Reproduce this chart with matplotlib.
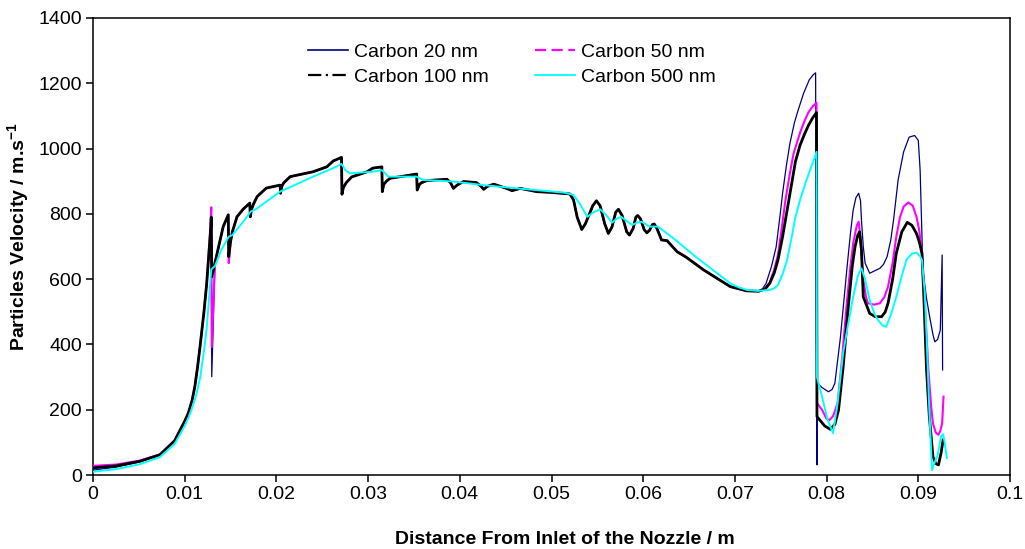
"""Particle velocity along the nozzle for four carbon particle sizes."""

import matplotlib
import matplotlib.pyplot as plt
from matplotlib.lines import Line2D
from matplotlib.ticker import FuncFormatter, MultipleLocator

matplotlib.use("Agg")

# ---- data -----------------------------------------------------------------
# onset, where the 20/50/100 nm curves part at the first shock
X_ONSET = [0.0, 0.0025, 0.0051, 0.0073, 0.0089, 0.0100, 0.0104, 0.0108, 0.0111, 0.0114,
           0.0117, 0.0121, 0.0124, 0.0128, 0.0129, 0.01295, 0.0133, 0.0137, 0.0142, 0.01475,
           0.0148]
Y_ONSET_100 = [22, 28, 42, 62, 105, 165, 190, 228, 270, 330,
               400, 500, 587, 740, 790, 607, 650, 700, 761, 797,
               669]
Y_ONSET_50 = [28, 32, 44, 63, 105, 165, 190, 228, 270, 330,
              400, 500, 587, 760, 820, 392, 650, 700, 761, 797,
              649]
Y_ONSET_20 = [15, 24, 40, 61, 105, 165, 190, 228, 270, 330,
              400, 500, 587, 740, 790, 301, 650, 700, 761, 797,
              669]

# middle stretch, common to 20/50/100 nm
X_MID = [
    0.0150, 0.0152, 0.0157, 0.0164, 0.0171, 0.01715, 0.0173, 0.0175, 0.0179, 0.0189,
    0.0204, 0.02045, 0.0206, 0.0208, 0.0215, 0.0240, 0.0255, 0.0262, 0.0271, 0.02715,
    0.0273, 0.0276, 0.0282, 0.0299, 0.0305, 0.0315, 0.03155, 0.0317, 0.0320, 0.0324,
    0.0353, 0.03535, 0.0356, 0.0358, 0.0364, 0.0386, 0.0390, 0.0393, 0.0397, 0.0404,
    0.0418, 0.0423, 0.0426, 0.0430, 0.0437, 0.0451, 0.0457, 0.0466, 0.0484, 0.0498,
    0.0520, 0.0524, 0.0528, 0.0533, 0.0537, 0.0545, 0.0549, 0.0553, 0.0558, 0.0562,
    0.0566, 0.0570, 0.0573, 0.0577, 0.0582, 0.0585, 0.0589, 0.0592, 0.0594, 0.0597,
    0.0601, 0.0604, 0.0607, 0.0610, 0.0612, 0.0615, 0.0620, 0.0626, 0.0637, 0.0647,
    0.0666, 0.0695, 0.0713, 0.0726,
]
Y_MID = [
    715, 745, 791, 815, 833, 791, 815, 830, 853, 879,
    888, 863, 885, 895, 914, 929, 944, 962, 973, 860,
    880, 895, 913, 929, 940, 944, 868, 890, 900, 909,
    922, 873, 890, 895, 902, 906, 895, 878, 888, 899,
    896, 885, 875, 884, 891, 878, 871, 878, 868, 866,
    861, 843, 790, 752, 770, 825, 840, 825, 770, 740,
    760, 805, 814, 795, 745, 735, 755, 790, 795, 785,
    752, 742, 750, 767, 769, 755, 720, 718, 684, 667,
    628, 577, 564, 563,
]

# tails (x > 0.0726 m), each size separately
X_TAIL_100 = [
    0.0733, 0.0738, 0.0743, 0.0747, 0.0752, 0.0757, 0.0762, 0.0766, 0.0771, 0.0776,
    0.0780, 0.0785, 0.0789, 0.07895, 0.0798, 0.0804, 0.0809, 0.0813, 0.0818, 0.0824,
    0.0828, 0.0831, 0.0834, 0.0836, 0.0838, 0.0840, 0.0847, 0.0853, 0.0860, 0.0864,
    0.0867, 0.0872, 0.0876, 0.0882, 0.0888, 0.0893, 0.0898, 0.0901, 0.0904, 0.0906,
    0.0909, 0.0912, 0.0916, 0.0919, 0.0922, 0.0925, 0.0927,
]
Y_TAIL_100 = [
    570, 587, 620, 659, 730, 812, 895, 960, 1010, 1045,
    1070, 1095, 1110, 179, 150, 140, 155, 199, 330, 526,
    640, 699, 735, 745, 690, 546, 495, 485, 485, 500,
    526, 600, 679, 745, 774, 765, 740, 715, 679, 550,
    322, 180, 56, 35, 31, 70, 107,
]

X_TAIL_50 = [
    0.0733, 0.0738, 0.0743, 0.0747, 0.0751, 0.0755, 0.0760, 0.0764, 0.0771, 0.0776,
    0.0780, 0.0785, 0.0789, 0.07895, 0.0795, 0.0800, 0.0803, 0.0807, 0.0812, 0.0817,
    0.0822, 0.0826, 0.0829, 0.0833, 0.0835, 0.0837, 0.0840, 0.0843, 0.0845, 0.0852,
    0.0858, 0.0863, 0.0867, 0.0872, 0.0876, 0.0880, 0.0884, 0.0889, 0.0894, 0.0898,
    0.0901, 0.0904, 0.0908, 0.0911, 0.0914, 0.0916, 0.0919, 0.0922, 0.0924, 0.0926,
    0.09275,
]
Y_TAIL_50 = [
    572, 590, 630, 675, 755, 840, 925, 985, 1048, 1085,
    1110, 1130, 1140, 220, 200, 172, 168, 180, 220, 360,
    526, 640, 710, 765, 776, 720, 597, 545, 526, 522,
    526, 545, 577, 650, 730, 790, 822, 835, 825, 791,
    750, 679, 480, 322, 210, 158, 130, 123, 135, 158,
    240,
]

X_TAIL_20 = [
    0.0730, 0.0734, 0.0740, 0.0745, 0.0749, 0.0752, 0.0756, 0.0760, 0.0765, 0.0769,
    0.0775, 0.0781, 0.0785, 0.0788, 0.07895, 0.0790, 0.0795, 0.0802, 0.0806, 0.0809,
    0.0815, 0.0822, 0.0826, 0.0829, 0.0832, 0.0835, 0.0837, 0.0838, 0.0840, 0.0842,
    0.0847, 0.0852, 0.0858, 0.0862, 0.0866, 0.0870, 0.0873, 0.0878, 0.0884, 0.0890,
    0.0896, 0.0900, 0.0902, 0.0905, 0.0909, 0.0913, 0.0916, 0.0918, 0.0921, 0.0924,
    0.0926, 0.09265,
]
Y_TAIL_20 = [
    570, 587, 640, 699, 790, 863, 945, 1016, 1080, 1118,
    1170, 1210, 1225, 1232, 31, 281, 268, 255, 262, 281,
    420, 628, 740, 812, 850, 863, 840, 781, 700, 649,
    618, 625, 633, 645, 669, 720, 781, 904, 990, 1035,
    1040, 1025, 934, 628, 540, 475, 430, 408, 415, 444,
    674, 322,
]

# 500 nm, whole length
X_500 = [
    0.0, 0.0025, 0.0051, 0.0073, 0.0089, 0.0100, 0.0104, 0.0108, 0.0113, 0.0117,
    0.0121, 0.0124, 0.0129, 0.0133, 0.0140, 0.0148, 0.0152, 0.0165, 0.0172, 0.0178,
    0.0204, 0.0240, 0.0262, 0.0271, 0.0275, 0.0280, 0.0305, 0.0315, 0.0322, 0.0353,
    0.0360, 0.0393, 0.0426, 0.0463, 0.0514, 0.0524, 0.0531, 0.0539, 0.0546, 0.0553,
    0.0560, 0.0566, 0.0571, 0.0576, 0.0582, 0.0588, 0.0593, 0.0598, 0.0603, 0.0607,
    0.0616, 0.0633, 0.0658, 0.0695, 0.0704, 0.0713, 0.0725, 0.0738, 0.0743, 0.0747,
    0.0752, 0.0757, 0.0762, 0.0766, 0.0771, 0.0777, 0.0782, 0.0786, 0.0789, 0.07895,
    0.0795, 0.0801, 0.0807, 0.0812, 0.0818, 0.0824, 0.0829, 0.0834, 0.0838, 0.0842,
    0.0847, 0.0852, 0.0856, 0.0861, 0.0865, 0.0870, 0.0876, 0.0882, 0.0887, 0.0893,
    0.0898, 0.0902, 0.0904, 0.0907, 0.0909, 0.0912, 0.0915, 0.0918, 0.0921, 0.0925,
    0.0927, 0.0929, 0.0931,
]
Y_500 = [
    10, 18, 33, 55, 95, 150, 175, 205, 250, 300,
    380, 450, 630, 640, 690, 730, 735, 780, 807, 815,
    868, 914, 940, 953, 935, 924, 929, 934, 914, 914,
    904, 899, 888, 878, 865, 858, 830, 791, 805, 814,
    795, 773, 785, 791, 778, 766, 773, 776, 768, 761,
    761, 725, 667, 587, 575, 567, 564, 567, 572, 582,
    615, 659, 730, 790, 842, 895, 934, 965, 990, 300,
    240, 170, 128, 220, 373, 470, 546, 610, 633, 600,
    536, 495, 475, 458, 454, 490, 546, 610, 659, 678,
    681, 670, 659, 560, 424, 200, 15, 40, 60, 120,
    125, 95, 52,
]

LABELS = ["Carbon 20 nm", "Carbon 50 nm", "Carbon 100 nm", "Carbon 500 nm"]
COLORS = ["#000080", "#ff00ff", "#000000", "#00ffff"]

for a, b in [(X_ONSET, Y_ONSET_100), (X_ONSET, Y_ONSET_50), (X_ONSET, Y_ONSET_20),
             (X_MID, Y_MID), (X_TAIL_100, Y_TAIL_100), (X_TAIL_50, Y_TAIL_50),
             (X_TAIL_20, Y_TAIL_20), (X_500, Y_500)]:
    assert len(a) == len(b), (len(a), len(b))


def main() -> None:
    plt.rcParams["font.family"] = ["Liberation Sans", "DejaVu Sans"]
    plt.rcParams["mathtext.fontset"] = "custom"
    plt.rcParams["mathtext.bf"] = "Liberation Sans:bold"
    plt.rcParams["mathtext.rm"] = "Liberation Sans"

    fig = plt.figure(figsize=(10.25, 5.49), dpi=100)
    ax = fig.add_axes([93 / 1025, 74 / 549, 917 / 1025, 457 / 549])

    ax.plot(X_ONSET + X_MID + X_TAIL_20, Y_ONSET_20 + Y_MID + Y_TAIL_20,
            color=COLORS[0], lw=0.9, zorder=2)
    ax.plot(X_ONSET + X_MID + X_TAIL_50, Y_ONSET_50 + Y_MID + Y_TAIL_50,
            color=COLORS[1], lw=1.5, zorder=3)
    ax.plot(X_ONSET + X_MID + X_TAIL_100, Y_ONSET_100 + Y_MID + Y_TAIL_100,
            color=COLORS[2], lw=2.0, zorder=4)
    ax.plot(X_500, Y_500, color=COLORS[3], lw=1.4, zorder=5)

    ax.set_xlim(0, 0.1)
    ax.set_ylim(0, 1400)
    ax.xaxis.set_major_locator(MultipleLocator(0.01))
    ax.yaxis.set_major_locator(MultipleLocator(200))
    ax.xaxis.set_major_formatter(FuncFormatter(lambda v, _: f"{round(v, 3):g}"))
    ax.tick_params(direction="out", length=5, width=1.1, labelsize=14, pad=3,
                   top=False, right=False)
    for sp in ax.spines.values():
        sp.set_linewidth(1.1)

    ax.set_xlabel("Distance From Inlet of the Nozzle / m", fontsize=14, fontweight="bold")
    ax.xaxis.set_label_coords(0.515, -0.1225)
    ax.set_ylabel("Particles Velocity / m.s$^{\\mathbf{-1}}$", fontsize=14,
                  fontweight="bold")
    ax.yaxis.set_label_coords(-0.0668, 0.522)

    handles = [
        Line2D([], [], color=COLORS[0], lw=1.2),
        Line2D([], [], color=COLORS[2], lw=1.6, dashes=(6, 2, 1, 2)),
        Line2D([], [], color=COLORS[1], lw=1.6, dashes=(5, 2.5)),
        Line2D([], [], color=COLORS[3], lw=1.3),
    ]
    labels = [LABELS[0], LABELS[2], LABELS[1], LABELS[3]]
    fig.legend(handles, labels, ncol=2, loc="upper left", frameon=False,
               bbox_to_anchor=(308 / 1025, 1 - 43 / 549), bbox_transform=fig.transFigure,
               fontsize=14, handlelength=2.06, handletextpad=0.3, columnspacing=2.4,
               labelspacing=0.41, borderpad=0, borderaxespad=0)

    fig.savefig("out.png", dpi=100)
    plt.close(fig)


if __name__ == "__main__":
    main()
